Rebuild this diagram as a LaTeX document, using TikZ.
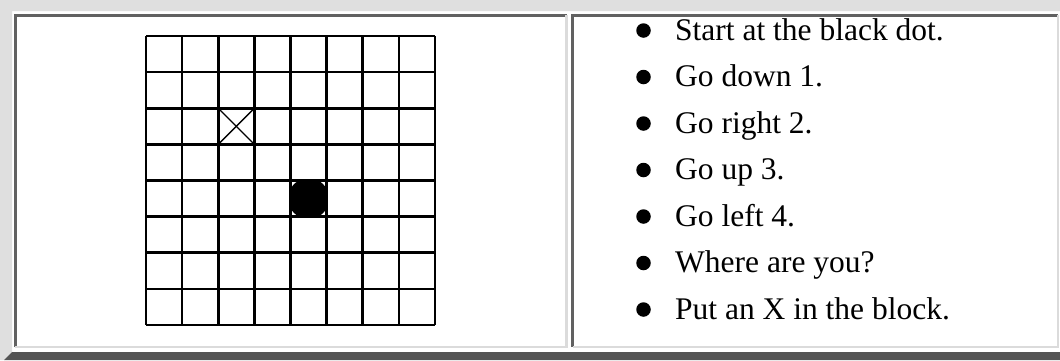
\documentclass[tikz,border=0pt]{standalone}
\usepackage{fontspec}
\setmainfont{Liberation Serif}
\definecolor{bevellight}{gray}{0.875}
\definecolor{beveldark}{gray}{0.33}
\definecolor{celldark}{gray}{0.38}
\definecolor{celllight}{gray}{0.86}
\begin{document}
\begin{tikzpicture}[x=1pt,y=-1pt,
  gridline/.style={line width=2.6pt,black},
  itemtext/.style={anchor=base west,inner sep=0pt,font=\fontsize{31.5}{38}\selectfont},
  bulletdot/.style={circle,fill=black,inner sep=0pt,minimum size=14.5pt},
  darkedge/.style={line width=2.6pt,celldark},
  lightedge/.style={line width=2.6pt,celllight}]
\useasboundingbox (0,0) rectangle (1060,360);
\fill[white] (0,0) rectangle (1060,360);
% outer table bevel
\fill[bevellight] (0,0) -- (1060,0) -- (1060,11) -- (12,11) -- (12,352) -- (4,360) -- (0,360) -- cycle;
\fill[beveldark] (12,352) -- (1060,352) -- (1060,360) -- (4,360) -- cycle;
% left cell
\draw[darkedge] (15.3,347) -- (15.3,15.3) -- (567,15.3);
\draw[lightedge] (15.3,347) -- (566.7,347) -- (566.7,15.3);
% right cell
\draw[darkedge] (572.5,347) -- (572.5,15.3) -- (1058,15.3);
\draw[lightedge] (572.5,347) -- (1058,347) -- (1058,15.3);
% grid
\foreach \i in {0,...,8} {
  \draw[gridline] ({146+36.125*\i},36) -- ({146+36.125*\i},325);
  \draw[gridline] (146,{36+36.125*\i}) -- (435,{36+36.125*\i});
}
% X mark
\coordinate (xa) at ({146+36.125*2},{36+36.125*2});
\coordinate (xb) at ({146+36.125*3},{36+36.125*3});
\coordinate (xc) at ({146+36.125*3},{36+36.125*2});
\coordinate (xd) at ({146+36.125*2},{36+36.125*3});
\draw[line width=1.4pt] (xa) -- (xb);
\draw[line width=1.4pt] (xc) -- (xd);
% black dot
\begin{scope}
\clip ({146+36.125*4},{36+36.125*4}) rectangle ({146+36.125*5},{36+36.125*5});
\node[circle,fill=black,inner sep=0pt,minimum size=41pt] (dot) at ({146+36.125*4.5},{36+36.125*4.5}) {};
\end{scope}
% list
\foreach \t [count=\k from 0] in {Start at the black dot.,Go down 1.,Go right 2.,Go up 3.,Go left 4.,Where are you?,Put an X in the block.} {
  \node[itemtext] (item\k) at (675,{40+46.5*\k}) {\t};
  \node[bulletdot] (bul\k) at (643.5,{40+46.5*\k-9.5}) {};
}
\end{tikzpicture}
\end{document}
